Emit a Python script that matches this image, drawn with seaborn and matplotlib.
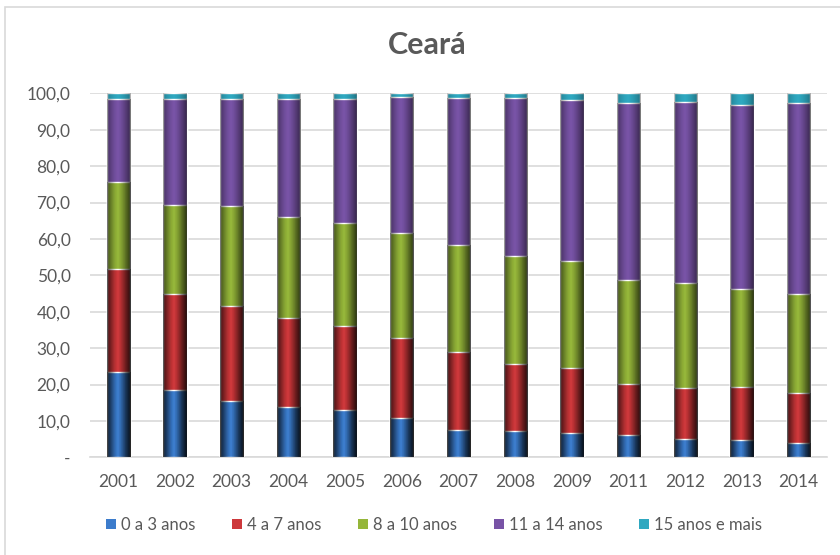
import numpy as np
import pandas as pd
import matplotlib
matplotlib.use("Agg")
import matplotlib.pyplot as plt
from matplotlib.patches import Patch, Rectangle
import seaborn as sns

# ---------------------------------------------------------------
# Data (% of population by schooling)
# ---------------------------------------------------------------
anos = ["2001", "2002", "2003", "2004", "2005", "2006", "2007",
        "2008", "2009", "2011", "2012", "2013", "2014"]
faixa_0_3 = [23.4, 18.6, 15.6, 13.7, 12.9, 10.7, 7.6, 7.1, 6.8, 6.0, 4.9, 4.7, 3.8]
faixa_4_7 = [28.2, 26.4, 26.1, 24.7, 23.1, 22.2, 21.2, 18.6, 17.7, 14.2, 14.2, 14.5, 14.0]
faixa_8_10 = [23.9, 24.4, 27.4, 27.7, 28.5, 28.6, 29.4, 29.5, 29.5, 28.4, 28.9, 27.1, 27.2]
faixa_11_14 = [22.8, 29.1, 29.4, 32.3, 33.9, 37.5, 40.6, 43.6, 44.1, 48.7, 49.5, 50.4, 52.2]
faixa_15_mais = [1.7, 1.5, 1.5, 1.6, 1.6, 1.0, 1.2, 1.2, 1.9, 2.7, 2.5, 3.3, 2.8]

series_names = ["0 a 3 anos", "4 a 7 anos", "8 a 10 anos", "11 a 14 anos", "15 anos e mais"]
colors = ["#3C7CCC", "#CD383B", "#95B63A", "#7853A6", "#2FA8C0"]

df = pd.DataFrame({
    "ano": anos,
    series_names[0]: faixa_0_3,
    series_names[1]: faixa_4_7,
    series_names[2]: faixa_8_10,
    series_names[3]: faixa_11_14,
    series_names[4]: faixa_15_mais,
})
cum = df[series_names].cumsum(axis=1)

# ---------------------------------------------------------------
# Plot
# ---------------------------------------------------------------
sns.set_theme(style="white")
plt.rcParams["font.family"] = ["Lato", "DejaVu Sans"]
text_color = "#595959"
grid_color = "#D9D9D9"

fig = plt.figure(figsize=(8.4, 5.55), dpi=100)
ax = fig.add_axes([90 / 840, 1 - 457.3 / 555, (827 - 90) / 840, (457.3 - 93.3) / 555])

# stacked bars: draw cumulative totals from the top series down
for name, color in reversed(list(zip(series_names, colors))):
    sns.barplot(x=df["ano"], y=cum[name], color=color, width=0.41,
                saturation=1, ax=ax, zorder=3)

# soft side shading, roughly like the Excel bevel look
xs = np.linspace(0, 1, 64)
shade = np.zeros((1, 64, 4))
shade[0, :, 3] = 0.28 * np.abs(xs - 0.45) ** 1.6 * 2 ** 1.6
for p in list(ax.patches):
    x0, y0 = p.get_x(), p.get_y()
    w, h = p.get_width(), p.get_height()
    im = ax.imshow(shade, extent=(x0, x0 + w, y0, y0 + h), aspect="auto",
                   zorder=3.5, interpolation="bilinear")
    im.set_clip_path(p)

ax.set_xlim(-0.5, len(anos) - 0.5)
ax.set_ylim(0, 100)
ax.set_yticks(np.arange(0, 101, 10))
ax.set_yticklabels(["-"] + [f"{v:.1f}".replace(".", ",") for v in range(10, 101, 10)])
ax.set_xlabel("")
ax.set_ylabel("")
ax.grid(axis="y", color=grid_color, linewidth=1.2, zorder=0)
for s in ["top", "right", "left"]:
    ax.spines[s].set_visible(False)
ax.spines["bottom"].set_color(grid_color)
ax.spines["bottom"].set_linewidth(1.2)
ax.tick_params(axis="both", length=0, labelsize=12.5, colors=text_color)
ax.tick_params(axis="x", pad=12)
ax.tick_params(axis="y", pad=14)

fig.text(427 / 840, 1 - 45 / 555, "Ceará", ha="center", va="center",
         fontsize=22, fontweight="bold", color=text_color)

handles = [Patch(facecolor=c, edgecolor="none") for c in colors]
fig.legend(handles, series_names, loc="center", bbox_to_anchor=(434 / 840, 1 - 525 / 555),
           ncol=5, frameon=False, fontsize=12, labelcolor=text_color,
           handlelength=0.6, handleheight=0.6, handletextpad=0.3, columnspacing=2.2)

# chart-area border
fig.patches.append(Rectangle((4.5 / 840, -0.05), 1.2, 1 - 6.5 / 555 + 0.05,
                             transform=fig.transFigure, fill=False,
                             edgecolor=grid_color, linewidth=1.2))

fig.savefig("out.png", dpi=100)
